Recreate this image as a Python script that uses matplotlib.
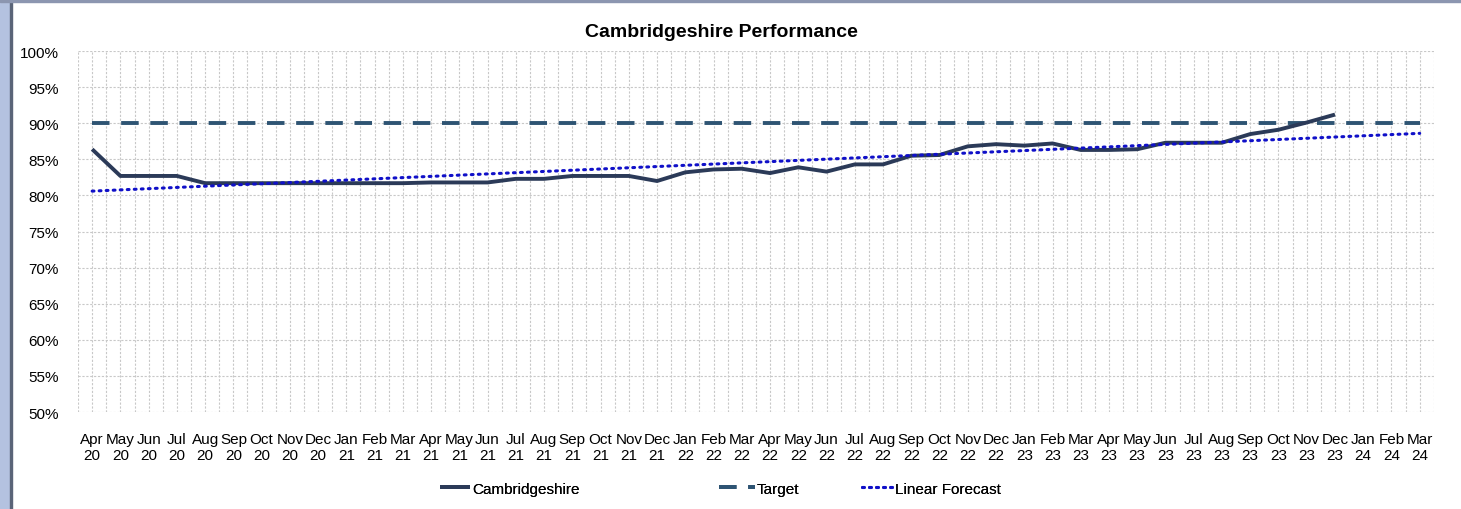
import matplotlib.pyplot as plt
from matplotlib.patches import Rectangle
from matplotlib.ticker import FixedLocator, MultipleLocator

plt.rcParams['font.family'] = ['Liberation Sans', 'DejaVu Sans']

months = ['Apr', 'May', 'Jun', 'Jul', 'Aug', 'Sep', 'Oct', 'Nov', 'Dec', 'Jan', 'Feb', 'Mar']
years = ['20', '21', '22', '23']
# Apr 20 .. Mar 24, financial years
labels = []
for y in years:
    for m in months:
        yy = str(int(y) + 1) if m in ('Jan', 'Feb', 'Mar') else y
        labels.append(m + '\n' + yy)

cambs = [86.4, 82.7, 82.7, 82.7, 81.7, 81.7, 81.7, 81.7, 81.7, 81.7, 81.7, 81.7,
         81.8, 81.8, 81.8, 82.3, 82.3, 82.7, 82.7, 82.7, 82.0, 83.2, 83.6, 83.7,
         83.1, 83.9, 83.3, 84.3, 84.3, 85.5, 85.6, 86.8, 87.1, 86.9, 87.2, 86.3,
         86.3, 86.4, 87.3, 87.3, 87.3, 88.5, 89.1, 90.1, 91.2]
target = [90.0] * len(labels)
forecast_x = [0, len(labels) - 1]
forecast_vals = [80.6, 88.6]

fig = plt.figure(figsize=(14.61, 5.10), dpi=100)
ax = fig.add_axes([0.0534, 0.19, 0.928, 0.708])

x = list(range(len(labels)))
l1, = ax.plot(x[:len(cambs)], cambs, color='#2b3a58', lw=2.8, solid_capstyle='butt', label='Cambridgeshire', zorder=4)
l2, = ax.plot(x, target, color='#2e5473', lw=2.8, dashes=(4.5, 3), label='Target', zorder=3)
l3, = ax.plot(forecast_x, forecast_vals, color='#1010c8', lw=2.2, linestyle=(0, (0.6, 1.7)),
              dash_capstyle='round', label='Linear Forecast', zorder=5)

ax.set_xlim(-0.5, len(labels) - 0.5)
ax.set_ylim(50, 100)
ax.yaxis.set_major_locator(MultipleLocator(5))
ax.set_yticklabels([f'{int(v)}%' for v in ax.get_yticks()])
ax.set_xticks(x)
ax.set_xticklabels(labels, fontsize=11, linespacing=1.25)
ax.xaxis.set_minor_locator(FixedLocator([i - 0.5 for i in range(len(labels) + 1)]))
ax.tick_params(axis='y', length=0, labelsize=11, pad=14)
ax.tick_params(axis='x', which='both', length=0, pad=14)

ax.grid(axis='y', which='major', color='#c8c8c8', lw=0.8, linestyle=(0, (2, 1.5)))
ax.grid(axis='x', which='both', color='#c8c8c8', lw=0.8, linestyle=(0, (2, 1.5)))
for s in ax.spines.values():
    s.set_visible(False)

fig.text(0.494, 0.936, 'Cambridgeshire Performance', fontsize=14, fontweight='bold',
         ha='center', va='center')

# Excel-style legend: entries placed individually
for handle, xpos, hl in [(l1, 0.301, 2.0), (l2, 0.492, 2.35), (l3, 0.590, 2.0)]:
    leg = fig.legend(handles=[handle], loc='center left', bbox_to_anchor=(xpos, 0.04),
                     frameon=False, fontsize=11, handlelength=hl, handletextpad=0.15,
                     borderpad=0, borderaxespad=0)
    fig.add_artist(leg)

# outer frame like the source screenshot
fig.patches.append(Rectangle((0, 0), 0.007, 1, transform=fig.transFigure, color='#b4c2e0', zorder=0))
fig.patches.append(Rectangle((0.007, 0), 0.0015, 1, transform=fig.transFigure, color='#5a6478', zorder=0))
fig.patches.append(Rectangle((0, 0.995), 1, 0.005, transform=fig.transFigure, color='#8c96b0', zorder=0))

fig.savefig('out.png', dpi=100)
